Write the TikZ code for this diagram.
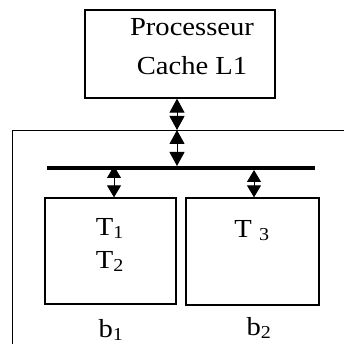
\documentclass[tikz,border=0pt]{standalone}
\usepackage{fontspec}
\setmainfont{Liberation Serif}
\usepackage{graphicx}
\usepackage{tikz}
\usetikzlibrary{arrows.meta}
\newcommand{\etire}[1]{\scalebox{1.1}[1]{#1}}

\begin{document}
\begin{tikzpicture}[x=1pt,y=-1pt,
  boite/.style={draw,line width=1.3pt,rectangle,inner sep=0pt},
  fleche/.style={line width=1pt,{Triangle[length=14pt,width=15pt]}-{Triangle[length=14pt,width=15pt]}},
  flechecourte/.style={line width=1pt,{Triangle[length=12pt,width=14pt]}-{Triangle[length=12pt,width=14pt]}},
  txt/.style={anchor=base,inner sep=0pt,font=\fontsize{26}{31}\selectfont}]
\path[use as bounding box] (0,0) rectangle (344,344);
\clip (0,0) rectangle (344,344);
\fill[white] (0,0) rectangle (344,344);
% processeur
\node[boite,minimum width=190pt,minimum height=88pt] (proc) at (180,54) {};
\node[txt] (procA) at (192,36) {\etire{Processeur}};
\node[txt] (procB) at (192,75) {\etire{Cache L1}};
% systeme
\node[boite,anchor=north west,minimum width=360pt,minimum height=240pt] (sys) at (12,130) {};
\coordinate (busL) at (47,168);
\coordinate (busR) at (315,168);
\draw[line width=4pt] (busL) -- (busR);
\coordinate (tapC) at (177,166);
\coordinate (tapA) at (114,166);
\coordinate (tapB) at (254,170);
% blocs
\node[boite,minimum width=131pt,minimum height=106pt] (blocA) at (110.5,251) {};
\node[boite,minimum width=133pt,minimum height=107pt] (blocB) at (252.5,251.5) {};
\node[txt] (t1) at (110,235) {\etire{T\textsubscript{1}}};
\node[txt] (t2) at (110,268) {\etire{T\textsubscript{2}}};
\node[txt] (t3) at (252,237) {\etire{T \textsubscript{3}}};
\node[txt] (b1) at (111,337) {\etire{b\textsubscript{1}}};
\node[txt] (b2) at (259,335) {\etire{b\textsubscript{2}}};
% liaisons
\draw[fleche] (proc.south -| tapC) -- (sys.north -| tapC);
\draw[fleche] (sys.north -| tapC) -- (tapC);
\draw[flechecourte] (tapA) -- (blocA.north -| tapA);
\draw[flechecourte] (tapB) -- (blocB.north -| tapB);
\end{tikzpicture}
\end{document}
